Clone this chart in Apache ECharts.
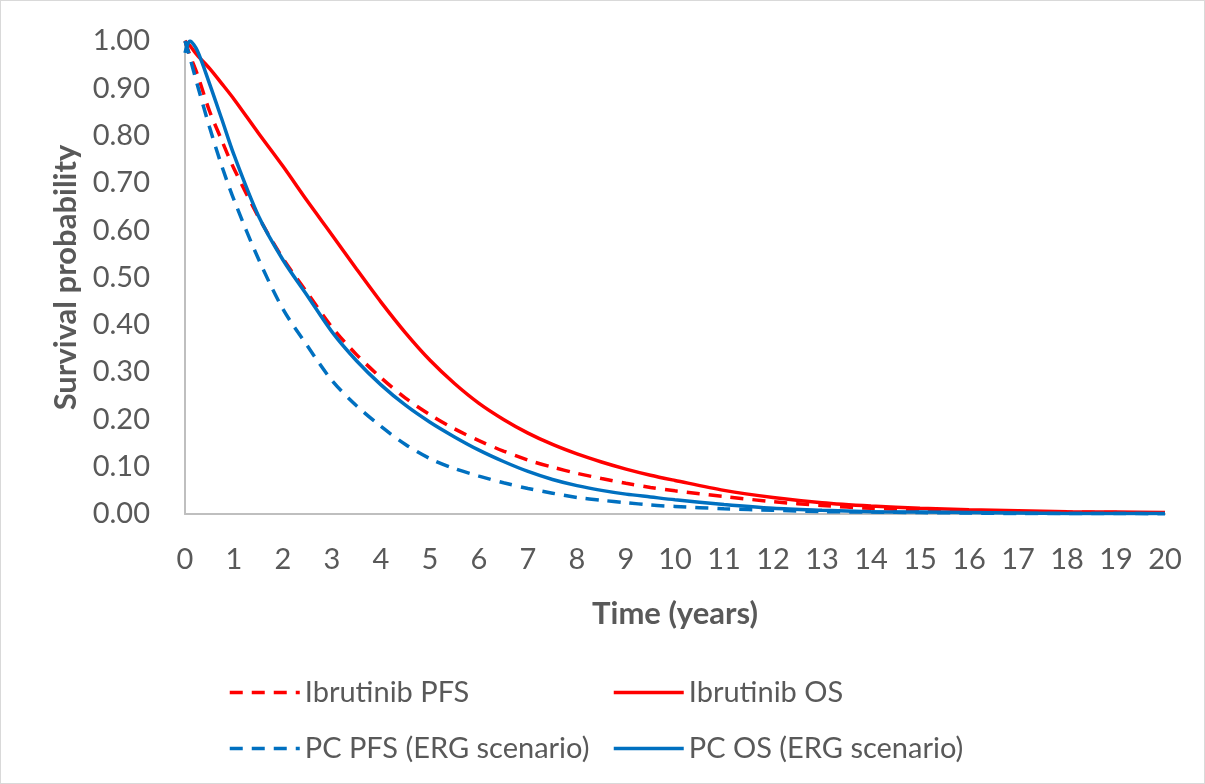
<!DOCTYPE html>
<html>
<head>
<meta charset="utf-8">
<script src="https://cdn.jsdelivr.net/npm/echarts@6/dist/echarts.min.js"></script>
<style>
  html, body { margin: 0; padding: 0; background: #ffffff; }
  #chart { width: 1205px; height: 784px; box-sizing: border-box; border: 1px solid #d9d9d9; }
</style>
</head>
<body>
<div id="chart"></div>
<script>
// Time points (years) shared by all curves
const years = [0, 0.1, 0.25, 0.5, 0.75, 1, 1.5, 2, 2.5, 3, 3.5, 4, 4.5, 5, 5.5, 6, 6.5, 7, 7.5, 8, 8.5, 9, 9.5, 10, 11, 12, 13, 14, 15, 16, 17, 18, 19, 20];

// Survival probabilities per curve
const ibrutinibPFS = [1.0, 0.97, 0.93, 0.852, 0.79, 0.73, 0.628, 0.54, 0.467, 0.395, 0.337, 0.288, 0.245, 0.21, 0.18, 0.155, 0.133, 0.114, 0.099, 0.086, 0.075, 0.065, 0.056, 0.049, 0.037, 0.026, 0.018, 0.012, 0.009, 0.007, 0.005, 0.004, 0.003, 0.002];
const ibrutinibOS  = [1.0, 0.99, 0.97, 0.942, 0.91, 0.877, 0.805, 0.735, 0.661, 0.59, 0.518, 0.448, 0.383, 0.325, 0.276, 0.234, 0.2, 0.171, 0.147, 0.127, 0.11, 0.095, 0.082, 0.071, 0.05, 0.035, 0.024, 0.017, 0.012, 0.009, 0.007, 0.005, 0.004, 0.003];
const pcPFS        = [1.0, 0.965, 0.908, 0.818, 0.736, 0.664, 0.539, 0.433, 0.355, 0.282, 0.229, 0.185, 0.147, 0.117, 0.096, 0.08, 0.066, 0.054, 0.044, 0.035, 0.029, 0.024, 0.019, 0.016, 0.011, 0.008, 0.005, 0.004, 0.003, 0.002, 0.001, 0.001, 0.001, 0.0005];
const pcOS         = [0.975, 1.0, 0.98, 0.91, 0.835, 0.759, 0.63, 0.537, 0.461, 0.385, 0.324, 0.273, 0.23, 0.194, 0.163, 0.135, 0.111, 0.09, 0.073, 0.06, 0.05, 0.042, 0.036, 0.03, 0.02, 0.012, 0.008, 0.005, 0.004, 0.003, 0.002, 0.001, 0.001, 0.001];

const seriesNames = ['Ibrutinib PFS', 'Ibrutinib OS', 'PC PFS (ERG scenario)', 'PC OS (ERG scenario)'];

const RED = '#FF0000';
const BLUE = '#0070C0';
const TEXT = '#595959';
const FONT = 'Lato, "Open Sans", sans-serif';

function pairs(vals) { return years.map((t, i) => [t, vals[i]]); }

function lineSeries(name, vals, color, dashed) {
  return {
    name: name,
    type: 'line',
    data: pairs(vals),
    smooth: 0.3,
    symbol: 'none',
    showSymbol: false,
    lineStyle: { color: color, width: 3.5, type: dashed ? [13, 9] : 'solid', cap: 'butt' },
    itemStyle: { color: color },
    z: 3
  };
}

// One legend block per entry so the two columns line up
function legendAt(name, left, top) {
  return {
    data: [name],
    left: left, top: top,
    itemWidth: 70, itemHeight: 16,
    itemGap: 0,
    itemStyle: { opacity: 0 },
    lineStyle: { width: 3.5 },
    textStyle: { color: TEXT, fontSize: 29, fontFamily: FONT },
    selectedMode: false
  };
}

const chart = echarts.init(document.getElementById('chart'), null, { renderer: 'canvas' });
chart.setOption({
  animation: false,
  backgroundColor: '#ffffff',
  grid: { left: 184, right: 39, top: 40, bottom: 269, containLabel: false },
  xAxis: {
    type: 'value', min: 0, max: 20, interval: 1,
    name: 'Time (years)', nameLocation: 'middle', nameGap: 84,
    nameTextStyle: { color: TEXT, fontSize: 31, fontWeight: 'bold', fontFamily: FONT },
    axisLine: { show: true, lineStyle: { color: '#bfbfbf', width: 2 } },
    axisTick: { show: false },
    axisLabel: { color: TEXT, fontSize: 29, fontFamily: FONT, margin: 31 },
    splitLine: { show: false }
  },
  yAxis: {
    type: 'value', min: 0, max: 1, interval: 0.1,
    name: 'Survival probability', nameLocation: 'middle', nameGap: 104, nameRotate: 90,
    nameTextStyle: { color: TEXT, fontSize: 31, fontWeight: 'bold', fontFamily: FONT },
    axisLine: { show: true, lineStyle: { color: '#bfbfbf', width: 2 } },
    axisTick: { show: false },
    axisLabel: { color: TEXT, fontSize: 29, fontFamily: FONT, margin: 35, formatter: v => v.toFixed(2) },
    splitLine: { show: false }
  },
  legend: [
    legendAt(seriesNames[0], 222, 672),
    legendAt(seriesNames[1], 606, 672),
    legendAt(seriesNames[2], 222, 728),
    legendAt(seriesNames[3], 606, 728)
  ],
  series: [
    lineSeries(seriesNames[0], ibrutinibPFS, RED, true),
    lineSeries(seriesNames[1], ibrutinibOS, RED, false),
    lineSeries(seriesNames[2], pcPFS, BLUE, true),
    lineSeries(seriesNames[3], pcOS, BLUE, false)
  ]
});
</script>
</body>
</html>
